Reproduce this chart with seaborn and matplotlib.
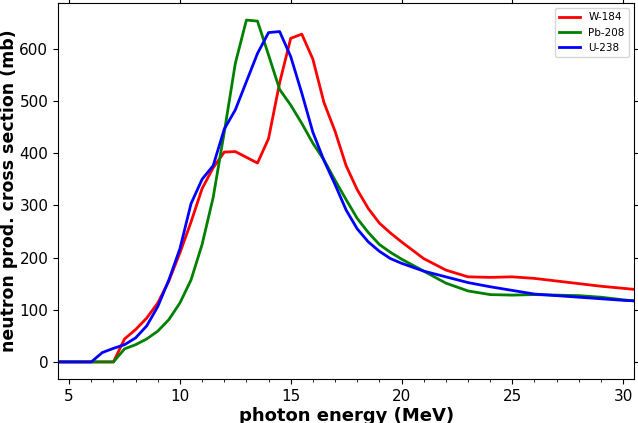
import numpy as np
import pandas as pd
import seaborn as sns
import matplotlib.pyplot as plt
from matplotlib.ticker import MultipleLocator

# photon energy grid (MeV)
energy = [4.5, 5, 5.5, 6, 6.5, 7, 7.5, 8, 8.5, 9, 9.5, 10, 10.5, 11, 11.5, 12,
          12.5, 13, 13.5, 14, 14.5, 15, 15.5, 16, 16.5, 17, 17.5, 18, 18.5, 19,
          19.5, 20, 21, 22, 23, 24, 25, 26, 27, 28, 29, 30, 30.5]

# neutron production cross sections (mb)
w184 = [0, 0, 0, 0, 0, 0, 44, 62, 84, 113, 155, 209, 268, 332, 372, 402,
        403, 392, 381, 428, 535, 620, 628, 580, 497, 442, 376, 330, 294, 266,
        247, 230, 198, 176, 163, 162, 163, 160, 155, 150, 145, 141, 139]
pb208 = [0, 0, 0, 0, 0, 0, 25, 33, 44, 59, 81, 113, 157, 225, 315, 440,
         572, 655, 653, 588, 522, 492, 457, 419, 387, 348, 311, 275, 248, 225,
         210, 197, 174, 151, 136, 129, 128, 129, 128, 127, 124, 119, 117]
u238 = [0, 0, 0, 0, 18, 26, 33, 46, 69, 106, 157, 217, 303, 350, 376, 446,
        483, 537, 591, 631, 633, 585, 515, 440, 386, 340, 291, 255, 230, 212,
        198, 189, 174, 163, 152, 144, 137, 130, 127, 124, 121, 118, 117]

df = pd.concat([
    pd.DataFrame({'energy': energy, 'xs': w184, 'target': 'W-184'}),
    pd.DataFrame({'energy': energy, 'xs': pb208, 'target': 'Pb-208'}),
    pd.DataFrame({'energy': energy, 'xs': u238, 'target': 'U-238'}),
])

palette = {'W-184': 'red', 'Pb-208': 'green', 'U-238': 'blue'}

fig = plt.figure(figsize=(6.38, 4.23), dpi=100)
ax = fig.add_axes([0.091, 0.104, 0.903, 0.889])

sns.lineplot(data=df, x='energy', y='xs', hue='target', palette=palette,
             linewidth=2, ax=ax, sort=False)

ax.set_xlim(4.5, 30.5)
ax.xaxis.set_major_locator(MultipleLocator(5))
ax.xaxis.set_minor_locator(MultipleLocator(1))
ax.tick_params(which='both', direction='out', top=True, right=True,
               labelsize=11)
ax.tick_params(which='minor', top=False)

ax.set_xlabel('photon energy (MeV)', fontsize=13, fontweight='bold', labelpad=2)
ax.set_ylabel('neutron prod. cross section (mb)', fontsize=12.5,
              fontweight='bold', labelpad=1)

ax.legend(title=None, loc='upper right', fontsize=7.5)

fig.savefig('out.png', dpi=100)
